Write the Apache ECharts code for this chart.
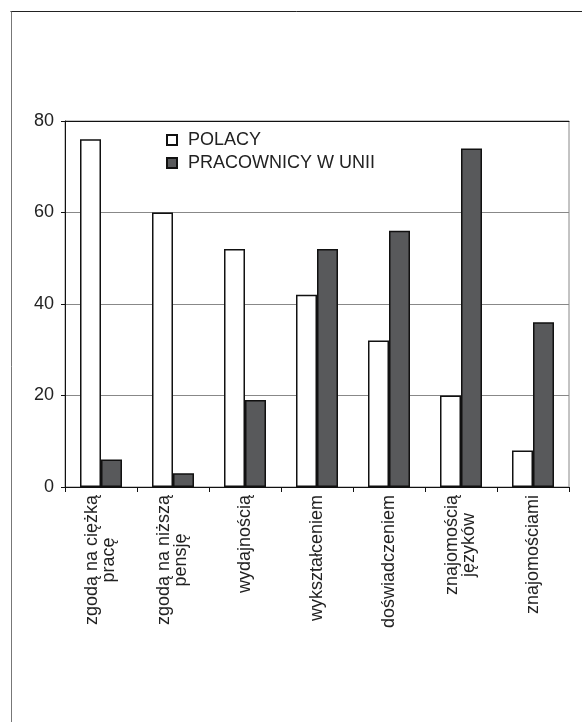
<!DOCTYPE html>
<html>
<head>
<meta charset="utf-8">
<style>
  html, body { margin: 0; padding: 0; background: #fff; }
  #chart { width: 582px; height: 722px; }
</style>
<script src="https://cdn.jsdelivr.net/npm/echarts@6/dist/echarts.min.js"></script>
</head>
<body>
<div id="chart"></div>
<script>
// Categories (line breaks as printed under the axis)
const categories = [
  'zgodą na ciężką\npracę',
  'zgodą na niższą\npensję',
  'wydajnością',
  'wykształceniem',
  'doświadczeniem',
  'znajomością\njęzyków',
  'znajomościami'
];
const seriesNames = ['POLACY', 'PRACOWNICY W UNII'];
const polacy = [76, 60, 52, 42, 32, 20, 8];
const pracownicyUnii = [6, 3, 19, 52, 56, 74, 36];
const yTicks = [0, 20, 40, 60, 80];

const FONT = '"Liberation Sans", Arial, sans-serif';
const TEXT = '#222';
const LABEL_SIZE = 18;
const LABEL_LINE = 17;

const chart = echarts.init(document.getElementById('chart'), null, { renderer: 'canvas' });

chart.setOption({
  animation: false,
  backgroundColor: '#fff',
  textStyle: { fontFamily: FONT },
  graphic: [
    // frame around the figure (top and left edges)
    { type: 'line', shape: { x1: 10.5, y1: 11.5, x2: 582, y2: 11.5 }, style: { stroke: '#222', lineWidth: 1 } },
    { type: 'line', shape: { x1: 11.5, y1: 11.5, x2: 11.5, y2: 722 }, style: { stroke: '#777', lineWidth: 1 } }
  ],
  grid: {
    left: 65, right: 13, top: 121, bottom: 235,
    show: true, borderColor: '#888', borderWidth: 1, backgroundColor: 'transparent'
  },
  legend: {
    orient: 'vertical',
    left: 166, top: 131,
    padding: 0,
    itemWidth: 10, itemHeight: 10,
    itemGap: 5,
    icon: 'rect',
    textStyle: { fontFamily: FONT, fontSize: 18, color: TEXT, padding: [0, 0, 0, 6] },
    data: seriesNames
  },
  xAxis: [
    {
      type: 'category',
      data: categories,
      position: 'bottom',
      axisLine: { lineStyle: { color: '#111', width: 1 } },
      axisTick: { show: true, alignWithLabel: false, length: 5, lineStyle: { color: '#111' } },
      axisLabel: {
        rotate: 90,
        interval: 0,
        margin: 8,
        color: TEXT,
        fontFamily: FONT,
        fontSize: LABEL_SIZE,
        lineHeight: LABEL_LINE,
        // each printed line is its own token, centred on the longest line
        formatter: function (v) {
          return v.split('\n').map(function (s) { return '{c|' + s + '}'; }).join('\n');
        },
        rich: { c: { align: 'center', fontSize: LABEL_SIZE, lineHeight: LABEL_LINE, color: TEXT, fontFamily: FONT } }
      }
    },
    {
      type: 'category',
      data: categories,
      position: 'top',
      axisLine: { show: true, lineStyle: { color: '#111', width: 1 } },
      axisTick: { show: false },
      axisLabel: { show: false }
    }
  ],
  yAxis: {
    type: 'value',
    min: 0, max: 80, interval: 20,
    axisLine: { show: true, lineStyle: { color: '#111', width: 1 } },
    axisTick: { show: true, length: 4, lineStyle: { color: '#111' } },
    splitLine: { show: true, lineStyle: { color: '#888', width: 1 } },
    axisLabel: {
      margin: 11,
      color: TEXT,
      fontFamily: FONT,
      fontSize: 18,
      formatter: function (v) { return yTicks.indexOf(v) >= 0 ? String(v) : ''; }
    }
  },
  series: [
    {
      name: seriesNames[0],
      type: 'bar',
      data: polacy,
      barWidth: 21,
      barGap: '0%',
      itemStyle: { color: '#ffffff', borderColor: '#111', borderWidth: 1.5 }
    },
    {
      name: seriesNames[1],
      type: 'bar',
      data: pracownicyUnii,
      barWidth: 21,
      barGap: '0%',
      itemStyle: { color: '#58595b', borderColor: '#111', borderWidth: 1.5 }
    }
  ]
});
</script>
</body>
</html>
